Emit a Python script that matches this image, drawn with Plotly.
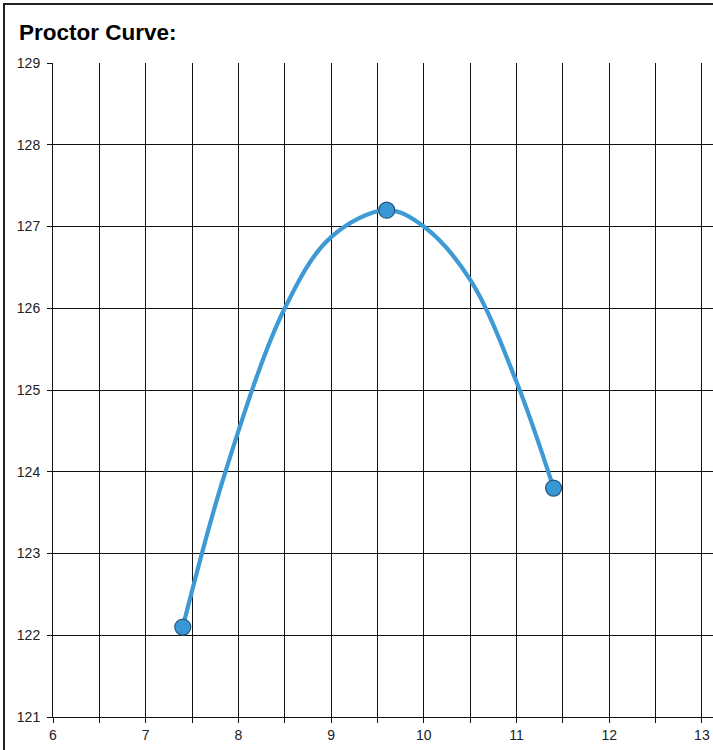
import plotly.graph_objects as go

# Measured points (moisture %, dry density)
point_x = [7.4, 9.6, 11.4]
point_y = [122.1, 127.2, 123.8]

# Curve
curve_x = [7.4, 7.86, 8.5, 9.0, 9.6, 10.0, 10.5, 11.0, 11.4]
curve_y = [122.1, 124.0, 126.0, 126.87, 127.2, 127.0, 126.35, 125.1, 123.8]

x_ticks = [6, 7, 8, 9, 10, 11, 12, 13]
y_ticks = [121, 122, 123, 124, 125, 126, 127, 128, 129]

fig = go.Figure()
fig.add_trace(go.Scatter(
    x=curve_x, y=curve_y, mode="lines",
    line=dict(color="#3d9ad5", width=4.2, shape="spline", smoothing=1.0),
    hoverinfo="skip", showlegend=False))
fig.add_trace(go.Scatter(
    x=point_x, y=point_y, mode="markers",
    marker=dict(size=16, color="#3a97d6", line=dict(color="#25597d", width=1.2)),
    showlegend=False))

W, H = 713, 750
L, R, T, B = 53, 0, 63, 33
pw, ph = W - L - R, H - T - B

fig.update_layout(
    width=W, height=H,
    margin=dict(l=L, r=R, t=T, b=B, autoexpand=False),
    paper_bgcolor="white", plot_bgcolor="white",
    font=dict(family="Liberation Sans, Arial, sans-serif", size=14, color="#222"),
    title=dict(text="<b>Proctor Curve:</b>", x=19 / W, xanchor="left", xref="container",
               y=1 - 32 / H, yanchor="middle", yref="container",
               font=dict(family="Liberation Sans, Arial, sans-serif", size=22.5, color="#000")),
    xaxis=dict(range=[6, 13.12], tickvals=x_ticks, ticktext=[str(v) for v in x_ticks],
               showgrid=True, gridcolor="#111", gridwidth=1,
               minor=dict(dtick=0.5, tick0=6, showgrid=True, gridcolor="#111", gridwidth=1,
                          ticks="outside", ticklen=5, tickcolor="#111"),
               ticks="outside", ticklen=5, tickcolor="#111",
               showline=True, linecolor="#111", linewidth=1, zeroline=False,
               tickfont=dict(size=14, color="#222"), fixedrange=True),
    yaxis=dict(range=[121, 129], tickvals=y_ticks, ticktext=[str(v) for v in y_ticks],
               showgrid=True, gridcolor="#111", gridwidth=1,
               ticks="outside", ticklen=5, tickcolor="#111",
               showline=True, linecolor="#111", linewidth=1, zeroline=False,
               tickfont=dict(size=14, color="#222"), ticklabelstandoff=4, fixedrange=True),
    shapes=[dict(type="rect", xref="paper", yref="paper",
                 x0=(4 - L) / pw, x1=1.2, y0=-0.3, y1=(H - B - 4) / ph,
                 line=dict(color="#222", width=2), fillcolor="rgba(0,0,0,0)", layer="above")],
)

fig.write_html("out.html", config={"displayModeBar": False},
               post_script="document.body.style.margin='0';document.body.style.overflow='hidden';")
